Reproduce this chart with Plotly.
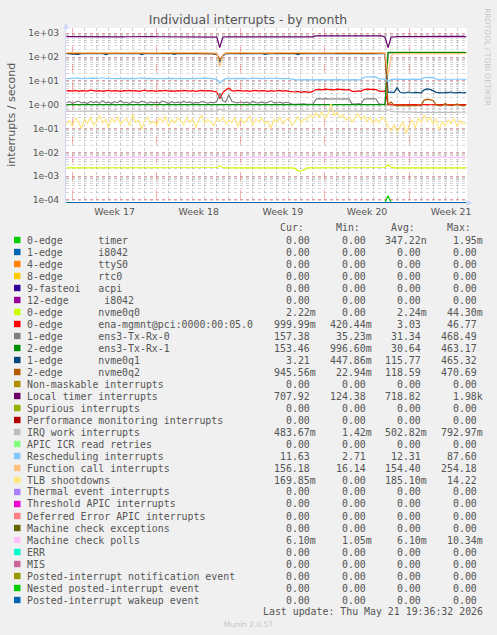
import pandas as pd
import plotly.graph_objects as go

# ---------------- data ----------------
N_POINTS = 134
SAMPLE_START = "2026-04-18 12:00"
SAMPLE_STEP = "6h"
X_RANGE = ["2026-04-18 11:00", "2026-05-21 19:36:32"]

WEEK_STARTS = ["2026-04-19", "2026-04-26", "2026-05-03", "2026-05-10", "2026-05-17"]
WEEK_LABELS = ["Week 17", "Week 18", "Week 19", "Week 20", "Week 21"]

Y_TICK_VALUES = [1e-4, 1e-3, 1e-2, 1e-1, 1e0, 1e1, 1e2, 1e3]
Y_TICK_LABELS = ["1e-04", "1e-03", "1e-02", "1e-01", "1e+00", "1e+01", "1e+02", "1e+03"]

TIMER = [
    0, 0, 0, 0, 0, 0, 0, 0, 0, 0,
    0, 0, 0, 0, 0, 0, 0, 0, 0, 0,
    0, 0, 0, 0, 0, 0, 0, 0, 0, 0,
    0, 0, 0, 0, 0, 0, 0, 0, 0, 0,
    0, 0, 0, 0, 0, 0, 0, 0, 0, 0,
    0, 0, 0, 0, 0, 0, 0, 0, 0, 0,
    0, 0, 0, 0, 0, 0, 0, 0, 0, 0,
    0, 0, 0, 0, 0, 0, 0, 0, 0, 0,
    0, 0, 0, 0, 0, 0, 0, 0, 0, 0,
    0, 0, 0, 0, 0, 0, 0, 0, 0, 0,
    0, 0, 0, 0, 0, 0, 0, 1.5e-4, 0, 0,
    0, 0, 0, 0, 0, 0, 0, 0, 0, 0,
    0, 0, 0, 0, 0, 0, 0, 0, 0, 0,
    0, 0, 0, 0,
]
ZERO_SERIES = [0.0] * N_POINTS  # series that stay at 0.00 over the whole month

NVME0Q0 = [
    0.0022, 0.0022, 0.0023, 0.0022, 0.0022, 0.0022, 0.0022, 0.0023, 0.0022, 0.0022,
    0.0022, 0.0023, 0.0022, 0.0022, 0.0022, 0.0022, 0.0023, 0.0022, 0.0022, 0.0022,
    0.0022, 0.0022, 0.0022, 0.0023, 0.0022, 0.0022, 0.0022, 0.0022, 0.0023, 0.0022,
    0.0022, 0.0022, 0.0023, 0.0022, 0.0022, 0.0022, 0.0022, 0.0022, 0.0023, 0.0022,
    0.0022, 0.0023, 0.0022, 0.0022, 0.0022, 0.0022, 0.0023, 0.0022, 0.0022, 0.0022,
    0.0023, 0.0027, 0.0023, 0.0022, 0.0022, 0.0022, 0.0023, 0.0022, 0.0022, 0.0022,
    0.0022, 0.0022, 0.0023, 0.0022, 0.0022, 0.0022, 0.0022, 0.0023, 0.0022, 0.0022,
    0.0022, 0.0022, 0.0022, 0.0023, 0.0022, 0.0022, 0.0021, 0.0017, 0.0016, 0.0018,
    0.0022, 0.0022, 0.0023, 0.0022, 0.0022, 0.0022, 0.0022, 0.0023, 0.0022, 0.0022,
    0.0022, 0.0022, 0.0023, 0.0022, 0.0022, 0.0022, 0.0022, 0.0022, 0.0023, 0.0022,
    0.0022, 0.0022, 0.0022, 0.0023, 0.0022, 0.0022, 0.0023, 0.0030, 0.0024, 0.0022,
    0.0022, 0.0023, 0.0022, 0.0022, 0.0022, 0.0022, 0.0023, 0.0022, 0.0022, 0.0022,
    0.0022, 0.0022, 0.0023, 0.0022, 0.0022, 0.0022, 0.0022, 0.0023, 0.0022, 0.0022,
    0.0022, 0.0022, 0.0023, 0.0022,
]

ENA_MGMNT = [
    3.8, 3.9, 3.7, 4.0, 3.6, 3.9, 3.8, 3.7, 4.1, 3.8,
    3.7, 3.9, 3.6, 3.8, 4.0, 3.7, 3.9, 3.8, 3.6, 3.9,
    3.8, 4.0, 3.7, 3.9, 3.6, 3.8, 4.1, 3.7, 3.9, 3.8,
    3.6, 3.9, 3.8, 4.0, 3.7, 3.8, 3.6, 3.9, 3.7, 4.0,
    3.8, 3.7, 3.9, 3.6, 3.8, 4.0, 3.7, 3.9, 3.8, 3.6,
    3.4, 1.8, 3.2, 4.1, 5.0, 3.9, 3.7, 4.0, 3.8, 3.7,
    3.9, 3.6, 3.8, 4.0, 3.7, 3.9, 3.8, 3.6, 3.9, 3.7,
    3.8, 4.0, 3.7, 3.9, 3.6, 3.5, 3.4, 3.6, 3.3, 3.5,
    3.4, 3.3, 3.6, 4.3, 4.4, 4.2, 4.5, 4.3, 4.4, 4.2,
    4.5, 4.3, 4.4, 4.2, 4.3, 3.7, 3.5, 3.8, 3.6, 4.3,
    4.5, 4.4, 4.6, 4.3, 3.7, 3.6, 3.8, 1.00, 0.99, 1.00,
    1.01, 1.00, 0.99, 1.00, 1.01, 1.00, 1.00, 0.99, 1.01, 1.00,
    1.00, 0.99, 1.01, 1.00, 1.00, 1.01, 0.99, 1.00, 1.00, 1.01,
    1.00, 0.99, 1.00, 1.00,
]

ENS3_TXRX0 = [
    1.20, 1.35, 1.15, 1.28, 1.42, 1.18, 1.25, 1.12, 1.38, 1.22,
    1.30, 1.16, 1.45, 1.20, 1.27, 1.14, 1.33, 1.21, 1.50, 1.19,
    1.26, 1.13, 1.36, 1.24, 1.18, 1.40, 1.22, 1.15, 1.31, 1.20,
    1.28, 1.17, 1.44, 1.23, 1.12, 1.34, 1.19, 1.27, 1.16, 1.39,
    1.21, 1.30, 1.14, 1.25, 1.18, 1.36, 1.22, 1.15, 1.28, 1.20,
    1.35, 3.00, 1.45, 1.30, 2.60, 1.40, 1.25, 1.18, 1.32, 1.20,
    1.27, 1.15, 1.38, 1.22, 1.19, 1.30, 1.16, 1.24, 1.45, 1.21,
    1.18, 1.29, 1.14, 1.26, 1.20, 1.05, 1.03, 1.06, 1.02, 1.08,
    1.04, 1.07, 1.05, 1.70, 1.78, 1.72, 1.80, 1.74, 1.69, 1.77,
    1.73, 1.79, 1.71, 1.76, 1.75, 1.08, 1.05, 1.10, 1.06, 1.72,
    1.78, 1.74, 1.80, 1.73, 1.07, 1.04, 1.06, 150, 151, 149,
    150, 152, 149, 151, 150, 148, 151, 150, 152, 149,
    150, 151, 149, 152, 150, 148, 151, 149, 150, 151,
    149, 150, 152, 150,
]

ENS3_TXRX1 = [
    1.00, 1.00, 1.00, 1.00, 1.00, 1.00, 1.00, 1.00, 1.00, 1.00,
    1.00, 1.00, 1.00, 1.00, 1.00, 1.00, 1.00, 1.00, 1.00, 1.00,
    1.00, 1.00, 1.00, 1.00, 1.00, 1.00, 1.00, 1.00, 1.00, 1.00,
    1.00, 1.00, 1.00, 1.00, 1.00, 1.00, 1.00, 1.00, 1.00, 1.00,
    1.00, 1.00, 1.00, 1.00, 1.00, 1.00, 1.00, 1.00, 1.00, 1.00,
    1.00, 1.00, 1.00, 1.00, 1.00, 1.00, 1.00, 1.00, 1.00, 1.00,
    1.00, 1.00, 1.00, 1.00, 1.00, 1.00, 1.00, 1.00, 1.00, 1.00,
    1.00, 1.00, 1.00, 1.00, 1.00, 1.00, 1.00, 1.00, 1.00, 1.00,
    1.00, 1.00, 1.00, 1.00, 1.00, 1.00, 1.00, 1.00, 1.00, 1.00,
    1.00, 1.00, 1.00, 1.00, 1.00, 1.00, 1.00, 1.00, 1.00, 1.00,
    1.00, 1.00, 1.00, 1.00, 1.00, 1.00, 1.00, 158, 156, 159,
    157, 160, 158, 156, 159, 157, 158, 160, 156, 158,
    159, 157, 158, 160, 157, 159, 156, 158, 160, 157,
    158, 156, 159, 153,
]

NVME0Q1 = [
    140, 138, 141, 139, 128, 140, 142, 139, 141, 138,
    140, 139, 142, 126, 140, 138, 141, 139, 140, 142,
    139, 141, 138, 140, 142, 127, 139, 141, 140, 138,
    141, 139, 140, 142, 138, 140, 129, 141, 139, 140,
    142, 138, 140, 141, 139, 140, 138, 142, 139, 135,
    130, 60, 110, 140, 139, 141, 138, 140, 142, 139,
    140, 138, 141, 139, 140, 142, 128, 139, 141, 138,
    140, 139, 142, 138, 141, 139, 140, 127, 141, 139,
    138, 140, 141, 139, 142, 138, 140, 141, 139, 140,
    142, 139, 140, 138, 141, 140, 139, 142, 138, 141,
    139, 140, 142, 138, 141, 139, 140, 3.3, 3.4, 3.2,
    5.2, 3.3, 3.1, 3.2, 3.4, 3.1, 3.3, 3.2, 3.1, 4.2,
    4.6, 4.4, 3.9, 3.3, 3.2, 3.1, 3.3, 3.2, 3.4, 3.1,
    3.2, 3.3, 3.1, 3.2,
]

NVME0Q2 = [
    143, 145, 142, 144, 146, 143, 141, 144, 145, 142,
    144, 143, 145, 142, 144, 146, 143, 142, 145, 144,
    142, 144, 143, 145, 141, 144, 146, 143, 142, 144,
    145, 143, 142, 144, 146, 142, 144, 143, 145, 142,
    144, 146, 143, 142, 145, 143, 144, 142, 146, 140,
    135, 80, 118, 143, 145, 142, 144, 146, 143, 142,
    144, 143, 145, 142, 146, 144, 143, 142, 145, 144,
    143, 145, 142, 144, 143, 146, 142, 144, 145, 143,
    142, 144, 146, 143, 145, 142, 144, 143, 146, 142,
    144, 143, 145, 142, 144, 146, 143, 142, 145, 143,
    144, 142, 145, 143, 144, 146, 140, 0.93, 1.30, 0.94,
    0.92, 0.93, 0.95, 0.92, 0.94, 0.93, 0.92, 0.95, 0.93, 1.55,
    1.68, 1.62, 1.50, 0.95, 0.93, 0.92, 1.12, 0.94, 0.93, 0.95,
    1.08, 0.93, 0.92, 0.95,
]

LOCAL_TIMER = [
    715, 712, 718, 710, 714, 720, 711, 709, 716, 713,
    717, 710, 708, 715, 719, 712, 714, 711, 716, 710,
    713, 718, 709, 714, 712, 717, 710, 715, 711, 716,
    712, 709, 714, 718, 711, 713, 716, 710, 714, 712,
    717, 711, 715, 709, 713, 718, 712, 714, 710, 706,
    690, 250, 680, 712, 708, 705, 710, 703, 707, 704,
    708, 701, 705, 707, 703, 700, 706, 704, 702, 708,
    705, 703, 707, 701, 704, 706, 702, 705, 703, 707,
    712, 715, 710, 778, 782, 779, 781, 777, 783, 780,
    779, 782, 778, 781, 780, 783, 779, 782, 778, 781,
    780, 783, 779, 782, 780, 776, 690, 250, 680, 716,
    718, 714, 717, 713, 719, 716, 712, 715, 714, 717,
    742, 745, 741, 744, 746, 743, 740, 745, 742, 744,
    741, 744, 740, 708,
]

IRQ_WORK = [
    0.54, 0.53, 0.55, 0.54, 0.53, 0.54, 0.55, 0.53, 0.54, 0.54,
    0.53, 0.55, 0.54, 0.53, 0.54, 0.55, 0.54, 0.53, 0.54, 0.55,
    0.54, 0.53, 0.54, 0.55, 0.53, 0.54, 0.54, 0.55, 0.53, 0.54,
    0.55, 0.54, 0.53, 0.54, 0.54, 0.55, 0.53, 0.54, 0.55, 0.54,
    0.53, 0.54, 0.55, 0.54, 0.53, 0.54, 0.55, 0.54, 0.53, 0.54,
    0.55, 0.64, 0.57, 0.54, 0.53, 0.55, 0.54, 0.53, 0.54, 0.55,
    0.54, 0.53, 0.55, 0.54, 0.53, 0.54, 0.55, 0.54, 0.53, 0.54,
    0.55, 0.54, 0.53, 0.54, 0.55, 0.54, 0.53, 0.54, 0.54, 0.55,
    0.53, 0.54, 0.55, 0.54, 0.53, 0.54, 0.55, 0.53, 0.54, 0.55,
    0.54, 0.53, 0.54, 0.55, 0.54, 0.53, 0.54, 0.55, 0.54, 0.53,
    0.54, 0.55, 0.53, 0.54, 0.55, 0.54, 0.53, 0.62, 0.52, 0.51,
    0.50, 0.51, 0.50, 0.49, 0.50, 0.48, 0.47, 0.48, 0.47, 0.48,
    0.47, 0.48, 0.47, 0.46, 0.47, 0.48, 0.47, 0.47, 0.48, 0.47,
    0.48, 0.47, 0.47, 0.48,
]

RESCHEDULING = [
    12.5, 12.8, 12.4, 12.6, 13.2, 12.5, 12.7, 12.3, 12.6, 12.9,
    12.4, 12.6, 13.5, 12.7, 12.5, 12.3, 12.8, 12.6, 12.4, 12.7,
    12.5, 12.9, 12.6, 12.3, 12.7, 13.4, 12.5, 12.8, 12.6, 12.4,
    12.7, 12.5, 12.3, 12.6, 13.0, 12.8, 12.5, 12.4, 12.7, 12.6,
    12.4, 12.8, 12.6, 12.5, 12.7, 12.3, 12.6, 12.9, 12.5, 12.2,
    11.5, 8.0, 10.5, 12.4, 12.6, 12.5, 12.8, 12.4, 12.6, 12.7,
    12.5, 12.3, 12.6, 12.8, 12.4, 12.7, 12.5, 12.6, 12.3, 12.7,
    12.6, 12.4, 12.8, 12.5, 12.3, 11.5, 11.2, 11.0, 11.3, 11.1,
    11.2, 10.9, 11.1, 11.0, 11.3, 11.2, 10.9, 11.1, 11.0, 11.2,
    11.1, 11.3, 10.9, 11.2, 11.0, 11.1, 11.3, 11.0, 11.2, 14.2,
    14.8, 14.5, 15.0, 14.6, 12.0, 11.8, 12.1, 9.0, 11.5, 11.8,
    11.6, 11.9, 11.7, 11.8, 11.6, 11.9, 11.7, 11.8, 11.6, 13.8,
    14.2, 14.0, 13.6, 11.9, 11.7, 11.8, 11.6, 11.9, 11.7, 11.8,
    11.6, 11.9, 11.7, 11.6,
]

FUNCTION_CALL = [
    155, 157, 153, 156, 158, 154, 156, 152, 157, 155,
    156, 153, 158, 155, 154, 157, 155, 156, 153, 158,
    154, 156, 155, 157, 153, 156, 158, 154, 155, 157,
    156, 154, 157, 153, 155, 158, 156, 154, 157, 155,
    153, 157, 155, 156, 154, 158, 155, 153, 156, 150,
    148, 40, 125, 152, 155, 153, 156, 154, 157, 155,
    154, 156, 153, 157, 155, 154, 156, 158, 155, 153,
    157, 155, 154, 156, 153, 157, 155, 156, 154, 158,
    155, 153, 156, 154, 157, 155, 153, 156, 158, 154,
    156, 155, 153, 157, 154, 156, 155, 157, 153, 156,
    155, 157, 154, 156, 153, 155, 148, 17, 110, 140,
    142, 139, 141, 138, 142, 140, 139, 141, 143, 140,
    141, 138, 142, 140, 139, 141, 140, 142, 139, 141,
    140, 142, 139, 141,
]

TLB_SHOOTDOWNS = [
    0.15, 0.22, 0.12, 0.28, 0.18, 0.10, 0.25, 0.16, 0.30, 0.14,
    0.20, 0.35, 0.17, 0.24, 0.11, 0.27, 0.19, 0.32, 0.15, 0.21,
    0.26, 0.13, 0.38, 0.18, 0.23, 0.09, 0.22, 0.29, 0.16, 0.20,
    0.14, 0.27, 0.19, 0.33, 0.12, 0.24, 0.17, 0.28, 0.21, 0.15,
    0.30, 0.18, 0.25, 0.11, 0.22, 0.36, 0.16, 0.24, 0.19, 0.13,
    0.27, 0.20, 0.31, 0.15, 0.23, 0.18, 0.29, 0.12, 0.26, 0.17,
    0.22, 0.34, 0.14, 0.25, 0.19, 0.28, 0.16, 0.21, 0.10, 0.24,
    0.18, 0.30, 0.15, 0.23, 0.27, 0.13, 0.20, 0.32, 0.17, 0.25,
    0.22, 0.38, 0.28, 0.45, 0.30, 0.52, 0.26, 0.40, 1.10, 0.35,
    0.48, 0.28, 0.36, 0.22, 0.31, 0.19, 0.27, 0.42, 0.24, 0.33,
    0.20, 0.29, 0.16, 0.25, 0.18, 0.30, 0.22, 0.12, 0.08, 0.15,
    0.07, 0.11, 0.19, 0.06, 0.14, 0.24, 0.10, 0.28, 0.17, 0.38,
    0.21, 0.30, 0.15, 0.26, 0.09, 0.20, 0.13, 0.23, 0.16, 0.27,
    0.12, 0.22, 0.15, 0.17,
]

MACHINE_CHECK_POLLS = [
    0.0061, 0.0061, 0.0062, 0.0061, 0.0061, 0.0061, 0.0061, 0.0062, 0.0061, 0.0061,
    0.0066, 0.0061, 0.0061, 0.0061, 0.0062, 0.0061, 0.0061, 0.0061, 0.0061, 0.0061,
    0.0061, 0.0062, 0.0061, 0.0066, 0.0061, 0.0061, 0.0061, 0.0061, 0.0062, 0.0061,
    0.0061, 0.0061, 0.0061, 0.0061, 0.0061, 0.0062, 0.0061, 0.0061, 0.0066, 0.0061,
    0.0061, 0.0061, 0.0062, 0.0061, 0.0061, 0.0061, 0.0061, 0.0061, 0.0061, 0.0062,
    0.0061, 0.0063, 0.0066, 0.0061, 0.0061, 0.0061, 0.0062, 0.0061, 0.0061, 0.0061,
    0.0061, 0.0061, 0.0061, 0.0066, 0.0061, 0.0061, 0.0062, 0.0061, 0.0061, 0.0061,
    0.0061, 0.0062, 0.0061, 0.0061, 0.0061, 0.0066, 0.0061, 0.0061, 0.0061, 0.0062,
    0.0061, 0.0061, 0.0061, 0.0061, 0.0062, 0.0061, 0.0061, 0.0061, 0.0066, 0.0061,
    0.0061, 0.0062, 0.0061, 0.0061, 0.0061, 0.0061, 0.0061, 0.0062, 0.0061, 0.0061,
    0.0066, 0.0061, 0.0061, 0.0061, 0.0062, 0.0061, 0.0061, 0.0063, 0.0061, 0.0061,
    0.0061, 0.0061, 0.0066, 0.0061, 0.0061, 0.0062, 0.0061, 0.0061, 0.0061, 0.0061,
    0.0061, 0.0062, 0.0061, 0.0061, 0.0061, 0.0066, 0.0061, 0.0061, 0.0061, 0.0062,
    0.0061, 0.0061, 0.0061, 0.0061,
]

SERIES_LABELS = [
    "0-edge      timer", "1-edge      i8042", "4-edge      ttyS0", "8-edge      rtc0",
    "9-fasteoi   acpi", "12-edge      i8042", "0-edge      nvme0q0",
    "0-edge      ena-mgmnt@pci:0000:00:05.0", "1-edge      ens3-Tx-Rx-0",
    "2-edge      ens3-Tx-Rx-1", "1-edge      nvme0q1", "2-edge      nvme0q2",
    "Non-maskable interrupts", "Local timer interrupts", "Spurious interrupts",
    "Performance monitoring interrupts", "IRQ work interrupts", "APIC ICR read retries",
    "Rescheduling interrupts", "Function call interrupts", "TLB shootdowns",
    "Thermal event interrupts", "Threshold APIC interrupts", "Deferred Error APIC interrupts",
    "Machine check exceptions", "Machine check polls", "ERR", "MIS",
    "Posted-interrupt notification event", "Nested posted-interrupt event",
    "Posted-interrupt wakeup event",
]
SERIES_COLORS = [
    "#00CC00", "#0066B3", "#FF8000", "#FFCC00", "#330099", "#990099", "#CCFF00",
    "#FF0000", "#808080", "#008F00", "#00487D", "#B35A00", "#B38F00", "#6B006B",
    "#8FB300", "#B30000", "#BEBEBE", "#80FF80", "#80C9FF", "#FFC080", "#FFE680",
    "#AA80FF", "#EE00CC", "#FF8080", "#666600", "#FFBFFF", "#00FFCC", "#CC6699",
    "#999900", "#00CC00", "#0066B3",
]
SERIES_VALUES = [
    TIMER, ZERO_SERIES, ZERO_SERIES, ZERO_SERIES, ZERO_SERIES, ZERO_SERIES, NVME0Q0,
    ENA_MGMNT, ENS3_TXRX0, ENS3_TXRX1, NVME0Q1, NVME0Q2,
    ZERO_SERIES, LOCAL_TIMER, ZERO_SERIES, ZERO_SERIES, IRQ_WORK, ZERO_SERIES,
    RESCHEDULING, FUNCTION_CALL, TLB_SHOOTDOWNS,
    ZERO_SERIES, ZERO_SERIES, ZERO_SERIES, ZERO_SERIES, MACHINE_CHECK_POLLS,
    ZERO_SERIES, ZERO_SERIES, ZERO_SERIES, ZERO_SERIES, ZERO_SERIES,
]

CUR_VALUES = [0, 0, 0, 0, 0, 0, 2.22e-3, 999.99e-3, 157.38, 153.46, 3.21, 945.56e-3,
              0, 707.92, 0, 0, 483.67e-3, 0, 11.63, 156.18, 169.85e-3,
              0, 0, 0, 0, 6.10e-3, 0, 0, 0, 0, 0]
MIN_VALUES = [0, 0, 0, 0, 0, 0, 0, 420.44e-3, 35.23e-3, 996.60e-3, 447.86e-3, 22.94e-3,
              0, 124.38, 0, 0, 1.42e-3, 0, 2.71, 16.14, 0,
              0, 0, 0, 0, 1.05e-3, 0, 0, 0, 0, 0]
AVG_VALUES = [347.22e-9, 0, 0, 0, 0, 0, 2.24e-3, 3.03, 31.34, 30.64, 115.77, 118.59,
              0, 718.82, 0, 0, 502.82e-3, 0, 12.31, 154.40, 185.10e-3,
              0, 0, 0, 0, 6.10e-3, 0, 0, 0, 0, 0]
MAX_VALUES = [1.95e-3, 0, 0, 0, 0, 0, 44.30e-3, 46.77, 468.49, 463.17, 465.32, 470.69,
              0, 1980, 0, 0, 792.97e-3, 0, 87.60, 254.18, 14.22,
              0, 0, 0, 0, 10.34e-3, 0, 0, 0, 0, 0]
COLUMN_HEADERS = ["Cur:", "Min:", "Avg:", "Max:"]

TITLE = "Individual interrupts - by month"
Y_TITLE = "interrupts / second"
LAST_UPDATE = "Last update: Thu May 21 19:36:32 2026"
FOOTER = "Munin 2.0.57"
WATERMARK = "RRDTOOL / TOBI OETIKER"

for vals in SERIES_VALUES:
    if len(vals) != N_POINTS:
        raise ValueError("series length mismatch: %d" % len(vals))

# ---------------- layout geometry ----------------
W, H = 497, 635
ML, MR, MT, MB = 66, 30, 28, 432
PW, PH = W - ML - MR, H - MT - MB
Y_RANGE = [-4.13, 3.22]
FLOOR = 10 ** (Y_RANGE[0] + 0.02)   # rrdtool clamps zero values to the graph bottom

TEXT = "#555555"
SANS = "DejaVu Sans"
MONO = "DejaVu Sans Mono"
NB = "\u00a0"


def px(x):
    return (x - ML) / PW


def py(y):
    return (H - MB - y) / PH


def si(v):
    if v == 0:
        return "0.00" + NB
    for fac, suf in [(1e3, "k"), (1.0, NB), (1e-3, "m"), (1e-6, "u"), (1e-9, "n")]:
        if abs(v) >= fac * 0.9999995:
            return "%.2f%s" % (v / fac, suf)
    return "%.2f" % v


times = pd.date_range(SAMPLE_START, periods=N_POINTS, freq=SAMPLE_STEP)
label_pos = [pd.Timestamp(d) + pd.Timedelta(hours=84) for d in WEEK_STARTS]

fig = go.Figure()
n_series = len(SERIES_VALUES)
for idx, (vals, col) in enumerate(zip(SERIES_VALUES, SERIES_COLORS)):
    yv = [v if v > 0 else FLOOR for v in vals]
    # the last-drawn series lives on the overlay axis that carries the week labels
    xa = "x2" if idx == n_series - 1 else "x"
    fig.add_trace(go.Scatter(x=times, y=yv, mode="lines", xaxis=xa, yaxis="y",
                             line=dict(color=col, width=1.2),
                             hoverinfo="skip", showlegend=False))

annotations = []
shapes = []

# legend header
for hdr, xl in zip(COLUMN_HEADERS, [280, 335.7, 390.7, 446.7]):
    annotations.append(dict(text=hdr, x=px(xl), y=py(227.3), xref="paper", yref="paper",
                            xanchor="left", yanchor="middle", showarrow=False,
                            font=dict(family=MONO, size=9.9, color=TEXT),
                            borderpad=0, borderwidth=0))

col_right = [316, 372, 426.7, 482.7]
for k, (lab, col) in enumerate(zip(SERIES_LABELS, SERIES_COLORS)):
    yc = 240 + 12 * k
    shapes.append(dict(type="rect", xref="paper", yref="paper",
                       x0=px(14), x1=px(20.5), y0=py(yc + 3.2), y1=py(yc - 3.2),
                       fillcolor=col, line=dict(width=0)))
    annotations.append(dict(text=lab.replace(" ", NB), x=px(26.7), y=py(yc),
                            xref="paper", yref="paper", xanchor="left", yanchor="middle",
                            showarrow=False, font=dict(family=MONO, size=9.9, color=TEXT),
                            borderpad=0, borderwidth=0))
    for vals, xr in zip([CUR_VALUES, MIN_VALUES, AVG_VALUES, MAX_VALUES], col_right):
        annotations.append(dict(text=si(vals[k]), x=px(xr), y=py(yc),
                                xref="paper", yref="paper", xanchor="right", yanchor="middle",
                                showarrow=False, font=dict(family=MONO, size=9.9, color=TEXT),
                                borderpad=0, borderwidth=0))

annotations.append(dict(text=LAST_UPDATE.replace(" ", NB), x=px(482.7), y=py(611.7),
                        xref="paper", yref="paper", xanchor="right", yanchor="middle",
                        showarrow=False, font=dict(family=MONO, size=9.9, color=TEXT),
                        borderpad=0, borderwidth=0))
annotations.append(dict(text=FOOTER, x=px(248), y=py(624.3), xref="paper", yref="paper",
                        xanchor="center", yanchor="middle", showarrow=False,
                        font=dict(family=SANS, size=7.5, color="#c4c4c4"),
                        borderpad=0, borderwidth=0))
annotations.append(dict(text=WATERMARK, x=px(487.3), y=py(57.5), xref="paper", yref="paper",
                        xanchor="center", yanchor="middle", showarrow=False, textangle=90,
                        font=dict(family=SANS, size=7.6, color="#c8c8c8"),
                        borderpad=0, borderwidth=0))
annotations.append(dict(text=Y_TITLE, x=px(10.7), y=py(115), xref="paper", yref="paper",
                        xanchor="center", yanchor="middle", showarrow=False, textangle=-90,
                        font=dict(family=SANS, size=11, color=TEXT),
                        borderpad=0, borderwidth=0))

# axis arrows (rrdtool style)
ARROW = "#CFD6F8"
shapes.append(dict(type="path", xref="paper", yref="paper",
                   path="M %f %f L %f %f L %f %f Z" % (px(466.5), py(199.8), px(472.5), py(203),
                                                       px(466.5), py(206.2)),
                   fillcolor=ARROW, line=dict(width=0)))
shapes.append(dict(type="path", xref="paper", yref="paper",
                   path="M %f %f L %f %f L %f %f Z" % (px(62.8), py(29), px(66), py(23),
                                                       px(69.2), py(29)),
                   fillcolor=ARROW, line=dict(width=0)))

fig.update_layout(
    width=W, height=H, autosize=False,
    margin=dict(l=ML, r=MR, t=MT, b=MB, pad=0),
    paper_bgcolor="#F0F0F0", plot_bgcolor="#FFFFFF",
    font=dict(family=SANS, color=TEXT),
    title=dict(text=TITLE, x=248 / W, xanchor="center", y=1 - 19.3 / H, yanchor="middle",
               font=dict(family=SANS, size=12.5, color=TEXT)),
    xaxis=dict(type="date", range=X_RANGE, tickmode="linear", tick0=WEEK_STARTS[0],
               dtick=7 * 86400000, showticklabels=False, ticks="",
               showgrid=True, gridcolor="rgba(235,120,120,0.6)", griddash="dash", gridwidth=1,
               zeroline=False, showline=False,
               minor=dict(tickmode="linear", tick0=WEEK_STARTS[0], dtick=86400000,
                          showgrid=True, gridcolor="rgba(150,150,150,0.45)", griddash="dot",
                          gridwidth=1, ticks="")),
    xaxis2=dict(type="date", range=X_RANGE, overlaying="x", anchor="y", side="bottom",
                tickmode="array", tickvals=label_pos, ticktext=WEEK_LABELS, ticks="",
                ticklen=0, ticklabelstandoff=2,
                showgrid=False, zeroline=False, showline=False,
                tickfont=dict(family=SANS, size=9.4, color=TEXT)),
    yaxis=dict(type="log", range=Y_RANGE, tickmode="array", tickvals=Y_TICK_VALUES,
               ticktext=Y_TICK_LABELS, ticks="", ticklen=0, ticklabelstandoff=4,
               tickfont=dict(family=SANS, size=9.2, color=TEXT),
               showgrid=True, gridcolor="rgba(235,120,120,0.6)", griddash="dot", gridwidth=1,
               minor=dict(dtick="D1", showgrid=True, gridcolor="rgba(150,150,150,0.4)",
                          griddash="dot", gridwidth=1, ticks=""),
               zeroline=False, showline=True, linecolor=ARROW, linewidth=1),
    annotations=annotations,
    shapes=shapes,
)

fig.write_html(
    "out.html",
    config={"staticPlot": True, "displayModeBar": False},
    post_script="document.body.style.margin='0px';"
                "document.body.style.background='#F0F0F0';",
)
